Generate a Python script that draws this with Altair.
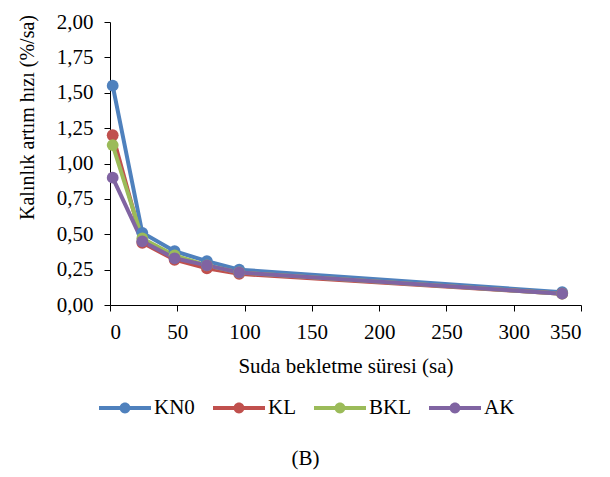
import altair as alt
import pandas as pd

hours = [2, 24, 48, 72, 96, 336]
series_names = ["KN0", "KL", "BKL", "AK"]
kn0 = [1.55, 0.51, 0.38, 0.31, 0.25, 0.09]
kl = [1.20, 0.44, 0.32, 0.26, 0.22, 0.08]
bkl = [1.13, 0.47, 0.35, 0.28, 0.23, 0.08]
ak = [0.90, 0.45, 0.33, 0.28, 0.23, 0.08]
colors = ["#4F81BD", "#C0504D", "#9BBB59", "#8064A2"]

rows = []
for name, vals in zip(series_names, [kn0, kl, bkl, ak]):
    for i, (h, v) in enumerate(zip(hours, vals)):
        rows.append({"t": h, "v": v, "s": name, "o": i})
df = pd.DataFrame(rows)

FONT = "Liberation Serif"
FS = 21

legend_path = ("M-1,-0.08L1,-0.08L1,0.08L-1,0.08Z "
               "M-0.21,0A0.21,0.21,0,1,1,0.21,0A0.21,0.21,0,1,1,-0.21,0Z")

color_scale = alt.Scale(domain=series_names, range=colors)

x_enc = alt.X("t:Q", scale=alt.Scale(domain=[0, 350], nice=False),
              axis=alt.Axis(values=list(range(0, 351, 50)),
                            title="Suda bekletme süresi (sa)",
                            labelPadding=10, titlePadding=13))
y_enc = alt.Y("v:Q", scale=alt.Scale(domain=[0, 2], nice=False),
              axis=alt.Axis(values=[0, 0.25, 0.5, 0.75, 1.0, 1.25, 1.5, 1.75, 2.0],
                            labelExpr="replace(format(datum.value, '.2f'), '.', ',')",
                            title="Kalınlık artım hızı (%/sa)", titleFontSize=20,
                            labelPadding=11, titlePadding=19, titleY=95))

legend = alt.Legend(title=None, orient="none", direction="horizontal",
                    legendX=-11, legendY=360,
                    symbolType=legend_path, symbolSize=2704,
                    symbolStrokeWidth=0, labelOffset=3,
                    columnPadding=18, labelFontSize=FS,
                    labelFont=FONT, labelColor="black")

lines = alt.Chart(df).mark_line(strokeWidth=4).encode(
    x=x_enc, y=y_enc,
    color=alt.Color("s:N", scale=color_scale, legend=legend),
    order="o:Q",
)

points = alt.Chart(df).mark_point(filled=True, size=140, opacity=1).encode(
    x=x_enc, y=y_enc,
    color=alt.Color("s:N", scale=color_scale, legend=legend),
)

chart = (lines + points).properties(
    width=471, height=283,
    autosize=alt.AutoSizeParams(type="none"),
    padding={"left": 102, "top": 14, "right": 21, "bottom": 172},
    background="white",
    title=alt.TitleParams(text="(B)", orient="bottom", anchor="middle",
                          offset=30, dx=-40, font=FONT, fontSize=FS,
                          fontWeight="normal", color="black"),
).configure_view(stroke=None).configure_axis(
    grid=False, domainColor="black", tickColor="black", domainWidth=1,
    tickSize=6, labelFont=FONT, labelFontSize=FS, labelColor="black",
    titleFont=FONT, titleFontSize=FS, titleFontWeight="normal", titleColor="black",
)

chart.save("out.html", embed_options={"renderer": "svg", "actions": False})
